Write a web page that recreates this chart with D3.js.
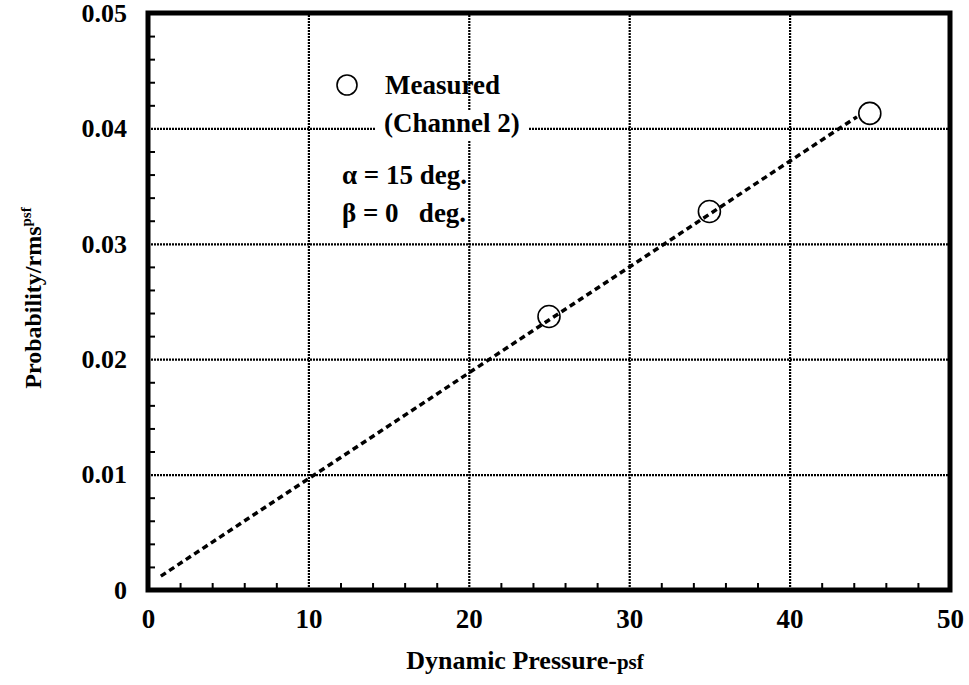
<!DOCTYPE html>
<html>
<head>
<meta charset="utf-8">
<script src="https://cdn.jsdelivr.net/npm/d3@7"></script>
<style>
  body { margin: 0; background: #fff; }
  text { font-family: "Liberation Serif", "Times New Roman", serif; font-weight: bold; fill: #000; }
</style>
</head>
<body>
<svg id="svg" width="969" height="685"></svg>
<script>
// data
const pressure = [25, 35, 45];
const probability = [0.0237, 0.0328, 0.0413];
const fitX = [0.8, 44.2];
const fitY = [0.0012, 0.0410];
const xTicks = [0, 10, 20, 30, 40, 50];
const yTicks = [0, 0.01, 0.02, 0.03, 0.04, 0.05];
const yTickLabels = ["0", "0.01", "0.02", "0.03", "0.04", "0.05"];

const svg = d3.select("#svg");

const x = d3.scaleLinear().domain([0, 50]).range([148, 950]);
const y = d3.scaleLinear().domain([0, 0.05]).range([590, 13]);

const xMinor = d3.range(0, 50.01, 2).filter(v => v % 10 !== 0);
const yMinor = d3.range(0, 0.0501, 0.002).filter((v, i) => i % 5 !== 0);

// grid lines (dotted)
const grid = svg.append("g");
grid.append("g")
  .attr("transform", `translate(0, ${y(0)})`)
  .call(d3.axisBottom(x).tickValues([10, 20, 30, 40]).tickSize(-(y(0) - y(0.05))).tickFormat(""));
grid.append("g")
  .attr("transform", `translate(${x(0)}, 0)`)
  .call(d3.axisLeft(y).tickValues([0.01, 0.02, 0.03, 0.04]).tickSize(-(x(50) - x(0))).tickFormat(""));
grid.selectAll(".domain").remove();
grid.selectAll("line")
  .attr("stroke", "#000")
  .attr("stroke-width", 2.2)
  .attr("stroke-dasharray", "2,1");

// legend text box hides the grid behind it
const legend = svg.append("g");
legend.append("rect")
  .attr("x", 376).attr("y", 110).attr("width", 152).attr("height", 30)
  .attr("fill", "#fff");

// minor ticks pointing inward
const minor = svg.append("g");
minor.append("g")
  .attr("transform", `translate(0, ${y(0)})`)
  .call(d3.axisBottom(x).tickValues(xMinor).tickSize(-7).tickFormat(""));
minor.append("g")
  .attr("transform", `translate(${x(0)}, 0)`)
  .call(d3.axisLeft(y).tickValues(yMinor).tickSize(-7).tickFormat(""));
minor.selectAll(".domain").remove();
minor.selectAll("line").attr("stroke", "#000").attr("stroke-width", 2);

// tick labels
const xAxis = svg.append("g")
  .attr("transform", `translate(0, ${y(0)})`)
  .call(d3.axisBottom(x).tickValues(xTicks).tickSize(0).tickPadding(19).tickFormat(d3.format("d")));
xAxis.select(".domain").remove();
xAxis.selectAll("text")
  .attr("font-size", 27)
  .style("font-family", "Liberation Serif")
  .style("font-weight", "bold");

const yAxis = svg.append("g")
  .attr("transform", `translate(${x(0)}, 0)`)
  .call(d3.axisLeft(y).tickValues(yTicks).tickSize(0).tickPadding(21)
    .tickFormat((d, i) => yTickLabels[i]));
yAxis.select(".domain").remove();
yAxis.selectAll("text")
  .attr("font-size", 26)
  .style("font-family", "Liberation Serif")
  .style("font-weight", "bold");

// frame
svg.append("rect")
  .attr("x", x(0)).attr("y", y(0.05))
  .attr("width", x(50) - x(0)).attr("height", y(0) - y(0.05))
  .attr("fill", "none")
  .attr("stroke", "#000")
  .attr("stroke-width", 5);

// fitted line
const line = d3.line().x(d => x(d[0])).y(d => y(d[1]));
svg.append("path")
  .datum(d3.zip(fitX, fitY))
  .attr("d", line)
  .attr("fill", "none")
  .attr("stroke", "#000")
  .attr("stroke-width", 3.5)
  .attr("stroke-dasharray", "6,4");

// measured points
svg.append("g")
  .selectAll("circle")
  .data(d3.zip(pressure, probability))
  .enter()
  .append("circle")
  .attr("cx", d => x(d[0]))
  .attr("cy", d => y(d[1]))
  .attr("r", 11)
  .attr("fill", "none")
  .attr("stroke", "#000")
  .attr("stroke-width", 1.6);

// legend
legend.append("circle")
  .attr("cx", 347).attr("cy", 85).attr("r", 10)
  .attr("fill", "none").attr("stroke", "#000").attr("stroke-width", 1.6);
legend.append("text").attr("x", 385).attr("y", 94).attr("font-size", 27).text("Measured");
legend.append("text").attr("x", 384).attr("y", 132).attr("font-size", 27).text("(Channel 2)");
legend.append("text").attr("x", 342).attr("y", 184).attr("font-size", 27).text("\u03b1 = 15 deg.");
legend.append("text").attr("x", 342).attr("y", 222).attr("font-size", 27)
  .style("white-space", "pre").text("\u03b2 = 0   deg.");

// axis titles
const xt = svg.append("text")
  .attr("x", 525).attr("y", 669)
  .attr("text-anchor", "middle")
  .attr("font-size", 26);
xt.append("tspan").text("Dynamic Pressure-");
xt.append("tspan").attr("font-size", 21).text("psf");

const yt = svg.append("text")
  .attr("transform", "translate(41, 298) rotate(-90)")
  .attr("text-anchor", "middle")
  .attr("font-size", 24);
yt.append("tspan").text("Probability/rms");
yt.append("tspan").attr("font-size", 15).attr("dy", -10).text("psf");
</script>
</body>
</html>
